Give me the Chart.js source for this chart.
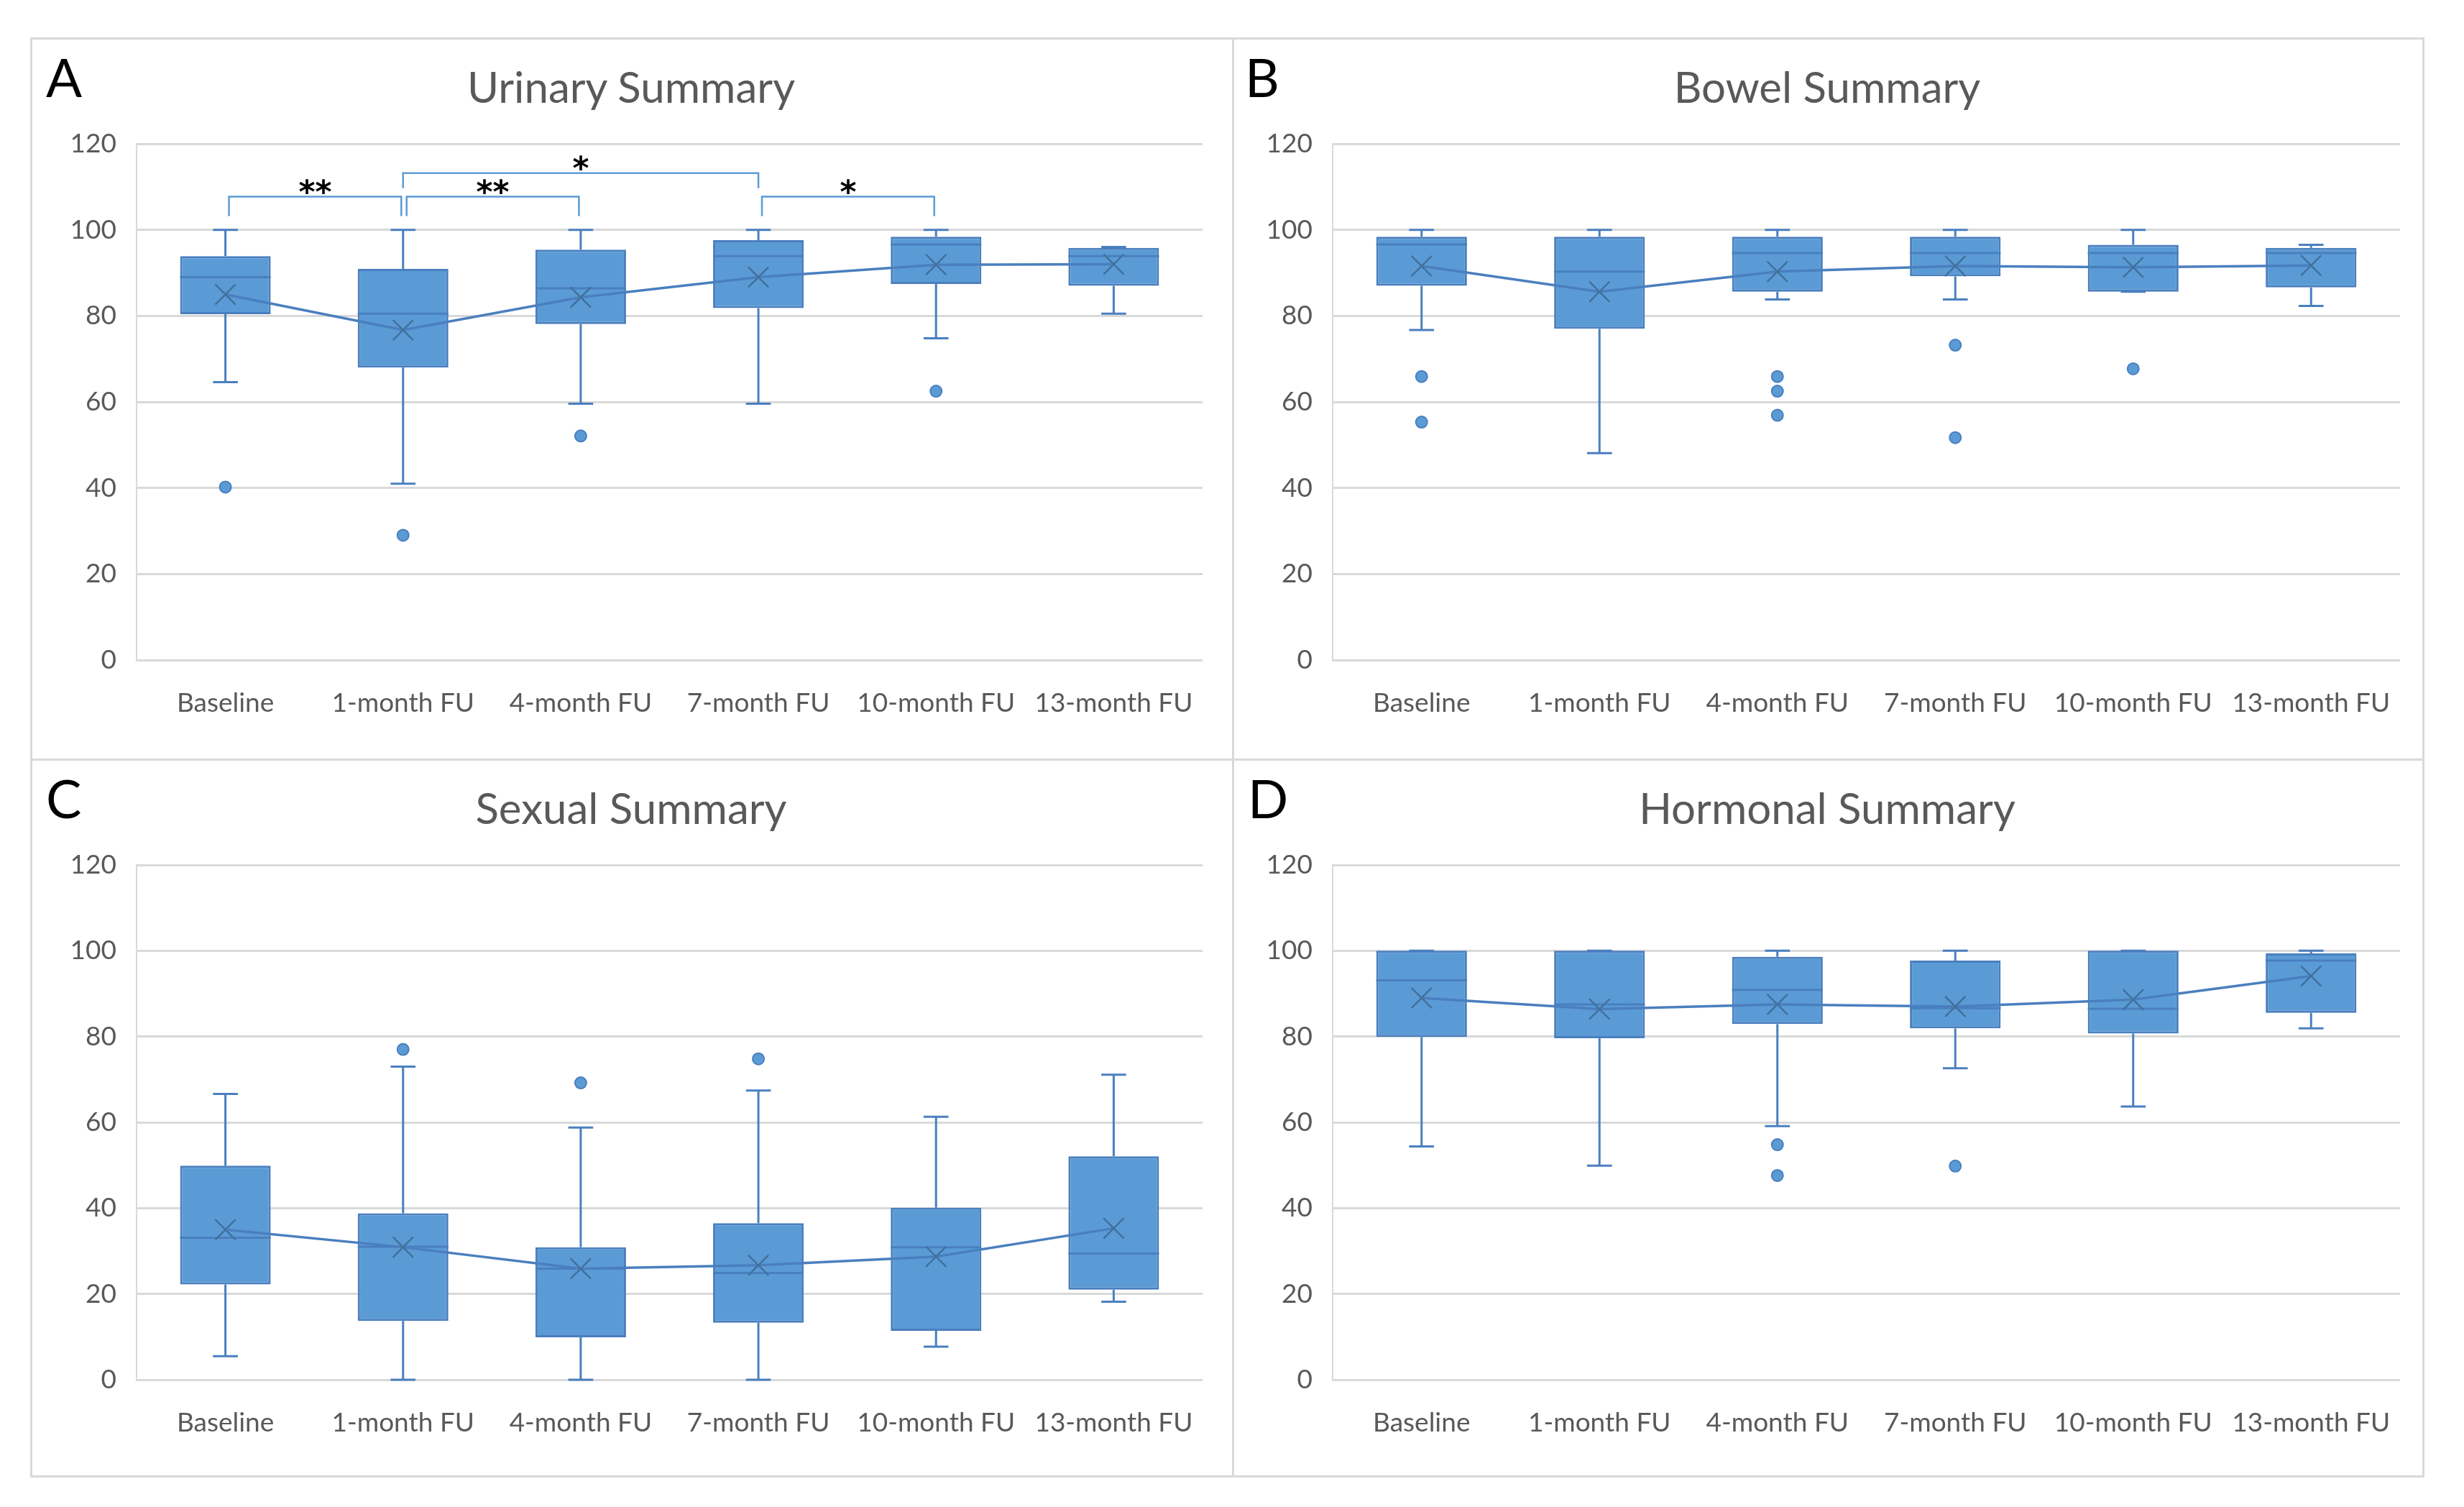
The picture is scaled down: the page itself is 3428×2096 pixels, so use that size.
<!DOCTYPE html>
<html lang="en">
<head>
  <meta charset="UTF-8">
  <title>Urinary, Bowel, Sexual and Hormonal Summary</title>
  <script src="https://cdn.jsdelivr.net/npm/chart.js"></script>
  <style>
    body {
      margin: 0;
      background: #fff;
      width: 3428px;
      height: 2096px;
      position: relative;
      overflow: hidden;
      font-family: Lato, sans-serif;
    }
    canvas, .frame, .title, .letter { position: absolute; }
    .frame {
      border: 3px solid #d9d9d9;
      box-sizing: border-box;
      pointer-events: none;
    }
    .title {
      text-align: center;
      font-size: 60px;
      line-height: 64px;
      color: #595959;
    }
    .letter {
      font-size: 74px;
      line-height: 74px;
      color: #000;
    }
  </style>
</head>
<body>
  <canvas id="urinary"></canvas>
  <canvas id="bowel"></canvas>
  <canvas id="sexual"></canvas>
  <canvas id="hormonal"></canvas>

  <script>
    const categories = ['Baseline', '1-month FU', '4-month FU', '7-month FU', '10-month FU', '13-month FU'];
    const yMin = 0, yMax = 120, yStep = 20;

    // Urinary summary
    const urinaryMin     = [64.6, 41.0, 59.6, 59.6, 74.8, 80.5];
    const urinaryQ1      = [80.4, 68.0, 78.1, 81.8, 87.4, 87.0];
    const urinaryMedian  = [89.0, 80.5, 86.4, 93.9, 96.6, 93.9];
    const urinaryQ3      = [93.9, 90.9, 95.4, 97.6, 98.4, 95.8];
    const urinaryMax     = [100, 100, 100, 100, 100, 96.0];
    const urinaryMean    = [85.0, 76.7, 84.3, 89.0, 91.9, 92.0];
    const urinaryOutliers = [[40.2], [29.0], [52.1], [], [62.5], []];

    // Bowel summary
    const bowelMin     = [76.7, 48.1, 83.8, 83.8, 85.6, 82.3];
    const bowelQ1      = [87.0, 77.0, 85.6, 89.2, 85.6, 86.6];
    const bowelMedian  = [96.6, 90.3, 94.6, 94.6, 94.6, 94.6];
    const bowelQ3      = [98.4, 98.4, 98.4, 98.4, 96.5, 95.8];
    const bowelMax     = [100, 100, 100, 100, 100, 96.5];
    const bowelMean    = [91.6, 85.6, 90.3, 91.6, 91.3, 91.7];
    const bowelOutliers = [[65.9, 55.3], [], [65.9, 62.5, 56.9], [73.2, 51.7], [67.7], []];

    // Sexual summary
    const sexualMin     = [5.5, 0, 0, 0, 7.7, 18.2];
    const sexualQ1      = [22.2, 13.7, 9.9, 13.3, 11.4, 21.0];
    const sexualMedian  = [33.1, 31.0, 25.9, 24.9, 30.9, 29.4];
    const sexualQ3      = [49.9, 38.8, 30.9, 36.5, 40.1, 52.1];
    const sexualMax     = [66.6, 73.0, 58.8, 67.4, 61.3, 71.1];
    const sexualMean    = [35.0, 30.9, 25.9, 26.7, 28.7, 35.3];
    const sexualOutliers = [[], [77.0], [69.2], [74.8], [], []];

    // Hormonal summary
    const hormonalMin     = [54.4, 49.9, 59.1, 72.6, 63.7, 81.9];
    const hormonalQ1      = [79.9, 79.6, 82.9, 81.9, 80.7, 85.5];
    const hormonalMedian  = [93.1, 87.5, 90.9, 86.6, 86.5, 97.7];
    const hormonalQ3      = [100, 100, 98.6, 97.7, 100, 99.4];
    const hormonalMax     = [100, 100, 100, 100, 100, 100];
    const hormonalMean    = [89.0, 86.4, 87.5, 87.0, 88.6, 94.1];
    const hormonalOutliers = [[], [], [54.8, 47.6], [49.8], [], []];

    // significance brackets on the urinary panel
    const sigFrom  = [0, 1, 1, 3];
    const sigTo    = [1, 2, 3, 4];
    const sigLevel = [107.7, 107.7, 113.2, 107.7];
    const sigFoot  = [103.2, 103.2, 109.7, 103.2];
    const sigLabel = ['**', '**', '*', '*'];

    const fill = '#5b9bd5';
    const edge = '#4a7fbf';
    const tickColor = '#595959';
    const gridColor = '#d9d9d9';

    // box whiskers and medians, drawn right after the boxes
    function boxExtras(s) {
      return {
        id: 'boxExtras',
        afterDatasetDraw(chart, args) {
          if (args.index !== 0) return;
          const { ctx, scales: { x, y } } = chart;
          const bars = args.meta.data;
          const step = x.getPixelForValue(1) - x.getPixelForValue(0);
          const cap = step * 0.07;
          const seg = (x1, y1, x2, y2) => {
            ctx.beginPath(); ctx.moveTo(x1, y1); ctx.lineTo(x2, y2); ctx.stroke();
          };
          ctx.save();
          ctx.strokeStyle = edge;
          ctx.lineWidth = 3;
          s.median.forEach((m, i) => {
            const cx = x.getPixelForValue(i);
            const half = bars[i].width / 2;
            seg(cx - half, y.getPixelForValue(m), cx + half, y.getPixelForValue(m));
            seg(cx, y.getPixelForValue(s.q3[i]), cx, y.getPixelForValue(s.max[i]));
            seg(cx - cap, y.getPixelForValue(s.max[i]), cx + cap, y.getPixelForValue(s.max[i]));
            seg(cx, y.getPixelForValue(s.q1[i]), cx, y.getPixelForValue(s.min[i]));
            seg(cx - cap, y.getPixelForValue(s.min[i]), cx + cap, y.getPixelForValue(s.min[i]));
          });
          ctx.restore();
        }
      };
    }

    const sigBrackets = {
      id: 'sigBrackets',
      afterDraw(chart) {
        const { ctx, scales: { x, y } } = chart;
        const step = x.getPixelForValue(1) - x.getPixelForValue(0);
        ctx.save();
        ctx.strokeStyle = fill;
        ctx.lineWidth = 2.5;
        ctx.fillStyle = '#000';
        ctx.font = 'bold 44px "DejaVu Sans"';
        ctx.textAlign = 'center';
        ctx.textBaseline = 'middle';
        sigFrom.forEach((a, i) => {
          const low = sigLevel[i] < 110;
          const x1 = x.getPixelForValue(a) + (low ? step * 0.02 : 0);
          const x2 = x.getPixelForValue(sigTo[i]) - (low ? step * 0.01 : 0);
          const yl = y.getPixelForValue(sigLevel[i]);
          const yf = y.getPixelForValue(sigFoot[i]);
          ctx.beginPath();
          ctx.moveTo(x1, yf); ctx.lineTo(x1, yl); ctx.lineTo(x2, yl); ctx.lineTo(x2, yf);
          ctx.stroke();
          ctx.fillText(sigLabel[i], (x1 + x2) / 2, yl - 3);
        });
        ctx.restore();
      }
    };

    function makePanel(id, title, letter, rect, plot, s, extra) {
      const cv = document.getElementById(id);
      cv.width = rect.w; cv.height = rect.h;
      cv.style.left = rect.x + 'px'; cv.style.top = rect.y + 'px';
      cv.style.width = rect.w + 'px'; cv.style.height = rect.h + 'px';

      const frame = document.createElement('div');
      frame.className = 'frame';
      Object.assign(frame.style, { left: rect.x + 'px', top: rect.y + 'px', width: (rect.w + 3) + 'px', height: (rect.h + 3) + 'px' });
      document.body.appendChild(frame);

      const t = document.createElement('div');
      t.className = 'title';
      t.textContent = title;
      Object.assign(t.style, { left: rect.x + 'px', width: rect.w + 'px', top: (rect.y + 36) + 'px' });
      document.body.appendChild(t);

      const l = document.createElement('div');
      l.className = 'letter';
      l.textContent = letter;
      Object.assign(l.style, { left: (rect.x + plot.letterX) + 'px', top: (rect.y + 18) + 'px' });
      document.body.appendChild(l);

      const outlierPoints = s.outliers.flatMap((arr, i) => arr.map(v => ({ x: categories[i], y: v })));

      new Chart(cv, {
        type: 'bar',
        data: {
          labels: categories,
          datasets: [
            {
              type: 'bar',
              data: s.q1.map((v, i) => [v, s.q3[i]]),
              backgroundColor: fill,
              borderColor: edge,
              borderWidth: 3,
              borderSkipped: false,
              barPercentage: 0.51,
              categoryPercentage: 1,
              order: 3
            },
            {
              type: 'line',
              data: outlierPoints,
              showLine: false,
              pointRadius: 8,
              pointBackgroundColor: fill,
              pointBorderColor: edge,
              pointBorderWidth: 2,
              order: 2
            },
            {
              type: 'line',
              data: s.mean,
              borderColor: edge,
              borderWidth: 3.5,
              tension: 0,
              pointStyle: 'crossRot',
              pointRadius: 20,
              pointBorderWidth: 2.5,
              pointBorderColor: '#41719c',
              order: 1
            }
          ]
        },
        options: {
          responsive: false,
          maintainAspectRatio: false,
          animation: false,
          layout: { padding: { left: 0, right: plot.right, top: plot.top, bottom: plot.bottom } },
          plugins: { legend: { display: false }, tooltip: { enabled: false } },
          scales: {
            x: {
              grid: { display: false, drawTicks: false },
              border: { display: false },
              ticks: { color: tickColor, font: { family: 'Lato', size: 37 }, padding: 38, maxRotation: 0 },
              afterFit: sc => { sc.height = 100; }
            },
            y: {
              min: yMin, max: yMax,
              ticks: { stepSize: yStep, color: tickColor, font: { family: 'Lato', size: 37 }, padding: 28 },
              grid: { color: gridColor, lineWidth: 3, drawTicks: false },
              border: { display: true, color: gridColor, width: 2 },
              afterFit: sc => { sc.width = plot.left; }
            }
          }
        },
        plugins: extra ? [boxExtras(s), extra] : [boxExtras(s)]
      });
    }

    makePanel('urinary', 'Urinary Summary', 'A',
      { x: 42, y: 52, w: 1672, h: 1003 },
      { left: 148, right: 41, top: 148, bottom: 37, letterX: 22 },
      { min: urinaryMin, q1: urinaryQ1, median: urinaryMedian, q3: urinaryQ3, max: urinaryMax, mean: urinaryMean, outliers: urinaryOutliers },
      sigBrackets);

    makePanel('bowel', 'Bowel Summary', 'B',
      { x: 1714, y: 52, w: 1656, h: 1003 },
      { left: 140, right: 31, top: 148, bottom: 37, letterX: 18 },
      { min: bowelMin, q1: bowelQ1, median: bowelMedian, q3: bowelQ3, max: bowelMax, mean: bowelMean, outliers: bowelOutliers });

    makePanel('sexual', 'Sexual Summary', 'C',
      { x: 42, y: 1055, w: 1672, h: 997 },
      { left: 148, right: 41, top: 148, bottom: 33, letterX: 22 },
      { min: sexualMin, q1: sexualQ1, median: sexualMedian, q3: sexualQ3, max: sexualMax, mean: sexualMean, outliers: sexualOutliers });

    makePanel('hormonal', 'Hormonal Summary', 'D',
      { x: 1714, y: 1055, w: 1656, h: 997 },
      { left: 140, right: 31, top: 148, bottom: 33, letterX: 22 },
      { min: hormonalMin, q1: hormonalQ1, median: hormonalMedian, q3: hormonalQ3, max: hormonalMax, mean: hormonalMean, outliers: hormonalOutliers });
  </script>
</body>
</html>
